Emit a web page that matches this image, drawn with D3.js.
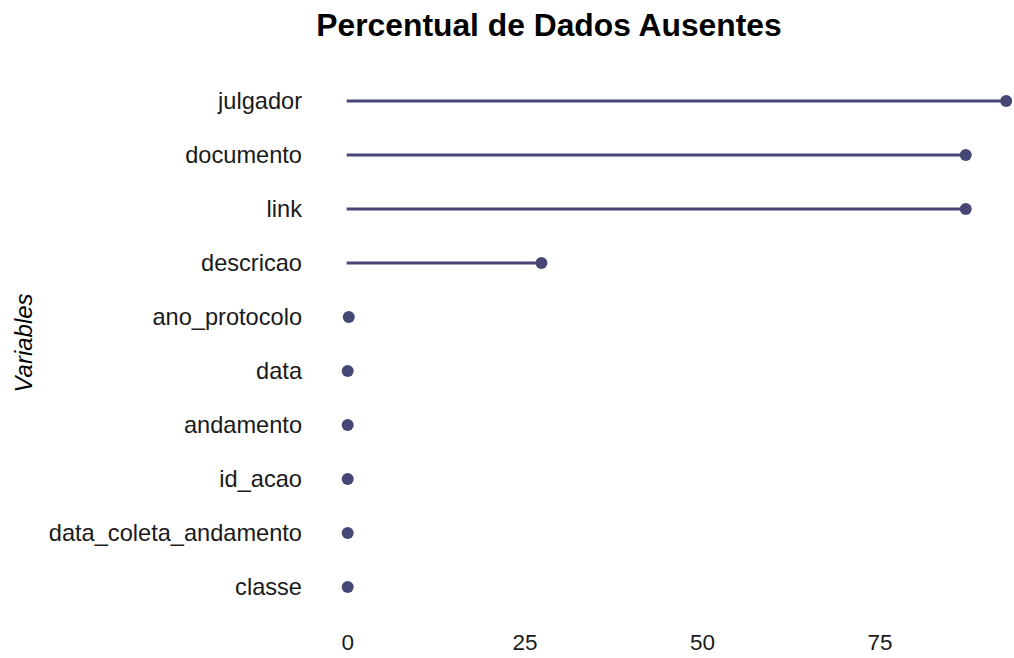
<!DOCTYPE html>
<html><head><meta charset="utf-8">
<script src="https://cdn.jsdelivr.net/npm/d3@7"></script>
<style>body{margin:0;background:#fff;} text{font-family:"Liberation Sans",Arial,sans-serif;}</style>
</head><body>
<svg id="c" width="1014" height="658"></svg>
<script>
const variables = ["julgador","documento","link","descricao","ano_protocolo","data","andamento","id_acao","data_coleta_andamento","classe"];
const pctMissing = [92.8, 87.1, 87.1, 27.3, 0.15, 0, 0, 0, 0, 0];
const xTicks = [0, 25, 50, 75];
const title = "Percentual de Dados Ausentes";
const yTitle = "Variables";

const svg = d3.select("#c");
const color = "#474776";
const x = d3.scaleLinear().domain([0, 75]).range([347.7, 879.9]);
const y = d3.scalePoint().domain(variables).range([101, 587]);

const data = variables.map((v, i) => ({v, p: pctMissing[i]}));

svg.append("text").attr("x", 549).attr("y", 36).attr("text-anchor", "middle")
  .attr("font-size", 31.8).attr("font-weight", "bold").attr("fill", "#000").text(title);

svg.append("text").attr("transform", "translate(32,343) rotate(-90)")
  .attr("text-anchor", "middle").attr("font-size", 24).attr("font-style", "italic")
  .attr("fill", "#000").text(yTitle);

svg.append("g").selectAll("text").data(variables).join("text")
  .attr("x", 302).attr("y", d => y(d)).attr("dy", "0.35em")
  .attr("text-anchor", "end").attr("font-size", 23.6).attr("fill", "#1a1a1a").text(d => d);

svg.append("g").selectAll("text").data(xTicks).join("text")
  .attr("x", d => x(d)).attr("y", 650)
  .attr("text-anchor", "middle").attr("font-size", 22.5).attr("fill", "#1a1a1a").text(d => d);

svg.append("g").selectAll("line").data(data.filter(d => d.p > 0)).join("line")
  .attr("x1", x(0) - 1).attr("x2", d => x(d.p))
  .attr("y1", d => y(d.v)).attr("y2", d => y(d.v))
  .attr("stroke", color).attr("stroke-width", 2.8);

svg.append("g").selectAll("circle").data(data).join("circle")
  .attr("cx", d => x(d.p)).attr("cy", d => y(d.v)).attr("r", 6)
  .attr("fill", color);
</script>
</body></html>
